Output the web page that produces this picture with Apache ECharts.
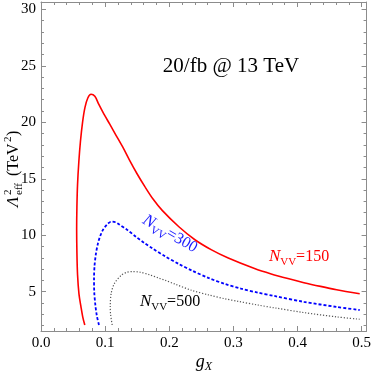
<!DOCTYPE html>
<html><head><meta charset="utf-8">
<script src="https://cdn.jsdelivr.net/npm/echarts@6/dist/echarts.min.js"></script>
<style>html,body{margin:0;padding:0;background:#fff}#c{width:374px;height:373px}</style>
</head><body><div id="c"></div>
<script>
// ---- data ----
var xMajor = [0, 0.1, 0.2, 0.3, 0.4, 0.5];
var xMinor = [0.02,0.04,0.06,0.08,0.12,0.14,0.16,0.18,0.22,0.24,0.26,0.28,0.32,0.34,0.36,0.38,0.42,0.44,0.46,0.48];
var yMajor = [5, 10, 15, 20, 25, 30];
var yMinor = [2,3,4,6,7,8,9,11,12,13,14,16,17,18,19,21,22,23,24,26,27,28,29];

var n150_x = [0.0683,0.0650,0.0625,0.0592,0.0570,0.0560,0.0556,0.0560,0.0570,0.0590,0.0615,0.0648,0.0685,0.0730,0.0780,0.0840,0.0900,0.0965,0.107,0.117,0.128,0.138,0.150,0.162,0.175,0.189,0.215,0.240,0.266,0.292,0.333,0.359,0.385,0.410,0.436,0.461,0.497];
var n150_y = [2.05,2.8,3.6,4.8,6.5,8.5,10.5,12.5,14.5,16.5,18.3,20.0,21.3,22.15,22.48,22.3,21.6,20.9,19.85,18.85,17.75,16.65,15.42,14.3,13.18,12.2,10.75,9.6,8.7,7.98,7.05,6.57,6.16,5.8,5.47,5.18,4.82];

var n300_x = [0.0904,0.0870,0.0848,0.0830,0.0827,0.0835,0.0855,0.0889,0.0925,0.0965,0.103,0.1095,0.116,0.122,0.135,0.148,0.161,0.174,0.194,0.215,0.235,0.261,0.287,0.312,0.338,0.364,0.410,0.461,0.497];
var n300_y = [2.05,2.9,3.8,5.0,6.2,7.3,8.3,9.3,9.95,10.46,10.95,11.2,11.15,10.95,10.45,9.87,9.32,8.82,8.12,7.45,6.88,6.22,5.68,5.27,4.92,4.62,4.1,3.65,3.38];

var n500_x = [0.111,0.1085,0.108,0.1095,0.1146,0.125,0.133,0.143,0.155,0.169,0.184,0.194,0.210,0.235,0.261,0.287,0.307,0.338,0.364,0.410,0.461,0.497];
var n500_y = [2.05,3.0,3.67,4.86,5.74,6.45,6.7,6.78,6.72,6.5,6.2,6.0,5.65,5.12,4.72,4.37,4.15,3.82,3.57,3.15,2.77,2.56];

function pairs(xs, ys){ return xs.map(function(v,i){ return [v, ys[i]]; }); }

var SERIF = "'Liberation Serif','DejaVu Serif',serif";
var FRAME = '#8c8c8c';
var XMIN = 0, XMAX = 0.5077, YMIN = 1.52, YMAX = 30.65;

function xAx(pos, vals, len, labels, line){
  return {type:'value', position:pos, min:XMIN, max:XMAX,
    splitLine:{show:false},
    axisLine:{show:line, onZero:false, lineStyle:{color:FRAME, width:1}},
    axisTick:{show:true, inside:true, length:len, customValues:vals, lineStyle:{color:FRAME, width:1}},
    axisLabel:{show:labels, customValues:vals, margin:5, color:'#000', fontFamily:SERIF, fontSize:15,
      formatter:function(v){ return v.toFixed(1); }}
  };
}
function yAx(pos, vals, len, labels, line){
  return {type:'value', position:pos, min:YMIN, max:YMAX,
    splitLine:{show:false},
    axisLine:{show:line, onZero:false, lineStyle:{color:FRAME, width:1}},
    axisTick:{show:true, inside:true, length:len, customValues:vals, lineStyle:{color:FRAME, width:1}},
    axisLabel:{show:labels, customValues:vals, margin:5, color:'#000', fontFamily:SERIF, fontSize:15,
      formatter:function(v){ return String(v); }}
  };
}

function nLabel(num){
  return '{n|N}{s|VV}{e|=' + num + '}';
}
function nRich(color){
  return {
    n:{fontFamily:SERIF, fontStyle:'italic', fontSize:17, fill:color, lineHeight:22},
    s:{fontFamily:SERIF, fontSize:11, fill:color, lineHeight:12, verticalAlign:'bottom'},
    e:{fontFamily:SERIF, fontSize:16, fill:color, lineHeight:22}
  };
}

var chart = echarts.init(document.getElementById('c'), null, {renderer:'canvas'});
chart.setOption({
  animation:false,
  backgroundColor:'#fff',
  grid:{left:41, right:4, top:2, bottom:42, containLabel:false},
  xAxis:[ xAx('bottom', xMajor, 5, true, true), xAx('bottom', xMinor, 3, false, false),
          xAx('top', xMajor, 5, false, true), xAx('top', xMinor, 3, false, false) ],
  yAxis:[ yAx('left', yMajor, 5, true, true), yAx('left', yMinor, 3, false, false),
          yAx('right', yMajor, 5, false, true), yAx('right', yMinor, 3, false, false) ],
  series:[
    {type:'line', xAxisIndex:0, yAxisIndex:0, data:pairs(n150_x, n150_y), showSymbol:false, smooth:0.3,
      lineStyle:{color:'#ff0000', width:1.6}},
    {type:'line', xAxisIndex:0, yAxisIndex:0, data:pairs(n300_x, n300_y), showSymbol:false, smooth:0.3,
      lineStyle:{color:'#0000ff', width:1.8, type:[3,2]}},
    {type:'line', xAxisIndex:0, yAxisIndex:0, data:pairs(n500_x, n500_y), showSymbol:false, smooth:0.3,
      lineStyle:{color:'#555555', width:1.2, type:[1.2,1.8]}}
  ],
  graphic:[
    {type:'text', x:231, y:66, style:{text:'20/fb @ 13 TeV', fontFamily:SERIF, fontSize:21, fill:'#000', align:'center', verticalAlign:'middle'}},
    {type:'text', x:299, y:257, style:{text:nLabel(150), rich:nRich('#ff0000'), align:'center', verticalAlign:'middle'}},
    {type:'text', x:170, y:302, style:{text:nLabel(500), rich:nRich('#000000'), align:'center', verticalAlign:'middle'}},
    {type:'text', x:170, y:234, rotation:-30*Math.PI/180, style:{text:nLabel(300), rich:nRich('#1a1aff'), align:'center', verticalAlign:'middle'}},
    {type:'text', x:204, y:362, style:{text:'{g|g}{x|X}', align:'center', verticalAlign:'middle',
      rich:{g:{fontFamily:SERIF, fontStyle:'italic', fontSize:18, fill:'#000', lineHeight:22},
            x:{fontFamily:SERIF, fontStyle:'italic', fontSize:12, fill:'#000', lineHeight:12, verticalAlign:'bottom'}}}},
    {type:'group', x:14, y:207, rotation:Math.PI/2, children:[
      {type:'text', x:0, y:0, style:{text:'Λ', fontFamily:SERIF, fontStyle:'italic', fontSize:17, fill:'#000', align:'left', verticalAlign:'middle'}},
      {type:'text', x:12, y:-6, style:{text:'2', fontFamily:SERIF, fontSize:11, fill:'#000', align:'left', verticalAlign:'middle'}},
      {type:'text', x:12, y:5, style:{text:'eff', fontFamily:SERIF, fontSize:11, fill:'#000', align:'left', verticalAlign:'middle'}},
      {type:'text', x:31, y:0, style:{text:'(TeV', fontFamily:SERIF, fontSize:16, fill:'#000', align:'left', verticalAlign:'middle'}},
      {type:'text', x:65, y:-6, style:{text:'2', fontFamily:SERIF, fontSize:11, fill:'#000', align:'left', verticalAlign:'middle'}},
      {type:'text', x:71, y:0, style:{text:')', fontFamily:SERIF, fontSize:16, fill:'#000', align:'left', verticalAlign:'middle'}}
    ]}
  ]
});
</script></body></html>
